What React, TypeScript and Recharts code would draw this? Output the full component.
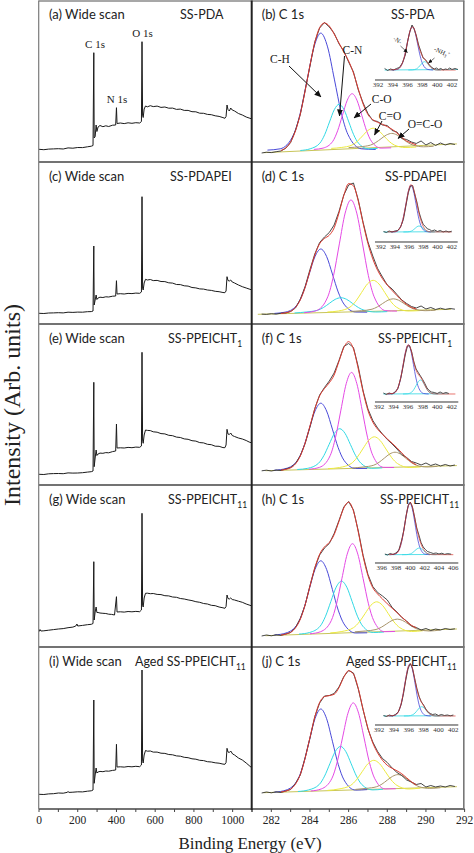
import React from 'react';
import { LineChart, Line, XAxis, YAxis } from 'recharts';

type P = [number, number];

// ---------------- wide scans (binding energy eV, intensity) ----------------
const wideScanA: P[] = [[0,12.7],[25,12.3],[50,12.9],[75,13.1],[100,13.3],[125,13.0],[150,14.1],[175,13.8],[200,14.5],[225,14.4],[250,15.2],[270,15.8],[279,16.5],[283,109.3],[285,24.0],[290,25.3],[295,37.0],[299,30.5],[305,35.0],[315,36.5],[330,35.3],[345,36.2],[360,35.5],[380,36.8],[396,37.0],[400,54.3],[403,38.5],[420,39.0],[440,38.4],[460,39.2],[480,38.7],[500,39.3],[520,39.0],[529,40.5],[532,120.3],[535,47.0],[538,44.5],[543,53.0],[550,56.0],[560,55.2],[575,56.3],[590,55.4],[610,55.9],[630,54.6],[650,55.0],[670,53.8],[690,53.9],[710,52.6],[730,52.9],[750,51.6],[770,51.6],[790,50.3],[810,50.2],[830,48.8],[850,48.7],[870,47.6],[890,47.3],[910,46.2],[930,45.6],[950,44.4],[960,43.7],[966,45.5],[971,57.0],[976,52.5],[983,51.0],[990,54.0],[998,52.0],[1010,51.0],[1030,48.5],[1050,47.0],[1070,45.0],[1085,44.0],[1100,43.0]];
const wideScanC: P[] = [[0,10.7],[25,10.5],[50,11.0],[75,11.1],[100,11.3],[125,11.1],[150,11.8],[175,11.6],[200,11.9],[225,11.8],[250,12.3],[270,12.4],[279,13.0],[283,78.0],[285,19.0],[290,24.0],[295,29.0],[299,24.5],[305,26.0],[315,26.8],[330,26.5],[345,27.2],[360,27.0],[380,27.8],[396,28.0],[400,43.3],[403,30.0],[420,30.3],[440,30.0],[460,30.6],[480,30.4],[500,30.9],[520,30.7],[529,32.0],[532,127.3],[535,36.0],[538,34.0],[543,41.0],[550,44.7],[560,44.0],[575,44.5],[590,43.4],[610,43.6],[630,42.5],[650,42.4],[670,41.2],[690,40.9],[710,39.5],[730,39.4],[750,38.2],[770,37.9],[790,36.5],[810,36.1],[830,35.1],[850,34.9],[870,34.0],[890,33.6],[910,32.7],[930,32.3],[950,31.5],[960,31.3],[966,33.0],[971,47.3],[976,43.5],[983,43.0],[990,44.0],[998,42.0],[1010,41.0],[1030,39.0],[1050,37.3],[1070,36.0],[1085,35.0],[1100,34.0]];
const wideScanE: P[] = [[0,10.7],[25,10.5],[50,11.2],[75,11.4],[100,11.5],[125,11.3],[150,12.1],[175,11.9],[200,12.0],[225,12.3],[250,12.9],[270,13.3],[279,14.0],[283,102.7],[285,18.3],[290,27.0],[295,35.0],[299,29.5],[305,31.0],[315,31.9],[330,31.7],[345,32.4],[360,32.2],[380,33.4],[396,34.0],[400,61.0],[403,37.0],[420,37.2],[440,37.0],[460,37.6],[480,37.3],[500,37.9],[520,37.7],[529,39.0],[532,132.7],[535,45.0],[538,41.7],[543,50.0],[550,55.0],[560,54.6],[575,54.4],[590,53.2],[610,52.8],[630,51.4],[650,51.1],[670,49.7],[690,49.3],[710,47.9],[730,47.5],[750,46.1],[770,45.7],[790,44.3],[810,43.9],[830,42.4],[850,42.1],[870,40.7],[890,40.3],[910,38.8],[930,38.7],[950,37.4],[960,37.3],[966,40.0],[971,55.7],[976,51.0],[983,50.5],[990,52.0],[998,49.5],[1010,48.5],[1030,47.0],[1050,46.0],[1070,44.5],[1085,43.0],[1100,42.0]];
const wideScanG: P[] = [[0,15.3],[5,17.5],[10,16.0],[25,16.2],[50,16.8],[75,17.4],[100,18.0],[125,18.4],[150,19.3],[175,19.9],[190,21.0],[196,23.0],[200,21.0],[225,21.6],[250,22.3],[270,22.7],[279,23.5],[283,85.3],[285,27.0],[290,35.0],[295,40.0],[299,34.5],[305,34.5],[315,34.0],[330,33.7],[345,33.5],[360,32.8],[375,32.6],[390,32.0],[400,50.3],[403,35.0],[420,35.2],[440,34.9],[460,35.5],[480,35.2],[500,35.6],[520,35.3],[529,37.0],[532,133.7],[535,42.0],[538,40.0],[543,49.0],[550,53.7],[560,53.8],[575,53.3],[590,53.5],[610,52.6],[630,52.4],[650,51.3],[670,51.1],[690,50.0],[710,49.7],[730,48.5],[750,48.0],[770,47.1],[790,46.4],[810,45.3],[830,44.7],[850,43.5],[870,43.0],[890,41.7],[910,41.3],[930,40.0],[950,39.2],[960,38.7],[966,40.5],[971,52.0],[976,48.5],[983,48.0],[990,49.0],[998,47.5],[1010,47.0],[1030,45.8],[1050,44.7],[1070,43.0],[1085,42.0],[1100,41.0]];
const wideScanI: P[] = [[0,14.7],[25,14.5],[50,15.1],[75,15.3],[100,16.0],[125,15.8],[145,16.6],[150,17.5],[155,16.6],[175,16.8],[200,17.2],[225,17.1],[250,17.8],[270,18.2],[279,19.0],[283,109.0],[285,25.7],[290,34.0],[295,41.0],[299,36.0],[305,37.0],[315,37.6],[330,37.3],[345,38.0],[360,37.8],[380,38.6],[396,39.0],[400,64.7],[403,42.0],[420,42.2],[440,41.9],[460,42.5],[480,42.2],[500,42.7],[520,42.3],[529,44.0],[532,139.0],[535,49.0],[538,46.0],[543,54.0],[550,58.5],[560,57.8],[575,58.0],[590,56.9],[610,56.9],[630,55.8],[650,55.6],[670,54.5],[690,54.2],[710,53.1],[730,52.8],[750,51.7],[770,51.3],[790,50.2],[810,49.8],[830,48.7],[850,48.4],[870,47.3],[890,47.0],[910,46.2],[930,45.8],[950,44.9],[960,44.7],[966,46.5],[971,60.7],[976,57.0],[983,56.5],[990,58.0],[1000,55.0],[1010,54.0],[1030,51.0],[1050,49.0],[1070,46.0],[1085,43.5],[1100,41.0]];

// ---------------- C 1s raw data, envelope ----------------
const rawGrid = [281.5,281.75,282,282.25,282.5,282.75,283,283.25,283.5,283.75,284,284.25,284.5,284.75,285,285.25,285.5,285.75,286,286.25,286.5,286.75,287,287.25,287.5,287.75,288,288.25,288.5,288.75,289,289.25,289.5,289.75,290,290.25,290.5,290.75,291,291.25,291.5];
const rawB = [9.0,9.8,9.4,10.3,11.0,13.8,19.5,31.8,47.5,71.8,96.0,120.2,134.0,139.5,135.0,128.8,118.2,111.0,100.0,90.0,72.0,59.0,48.5,41.5,40.5,37.0,36.5,31.5,30.0,23.5,22.5,20.0,18.5,21.0,17.0,19.5,16.5,19.0,17.0,18.5,17.5];
const rawD = [9.9,9.6,10.3,9.9,10.8,11.0,12.5,16.0,24.8,37.5,54.5,70.0,81.5,87.0,91.5,99.0,112.5,129.0,139.0,141.0,124.0,101.5,82.0,68.0,55.5,47.0,39.0,35.0,29.5,24.0,20.5,17.5,16.0,18.0,15.0,16.5,14.5,15.8,14.6,15.5,14.8];
const rawF = [14.2,14.8,14.0,14.9,14.5,16.0,17.5,21.5,29.5,41.5,58.0,76.5,90.0,97.5,104.0,112.0,124.5,138.5,141.5,137.5,118.0,94.0,76.0,64.5,57.0,51.0,45.5,41.0,36.0,30.5,27.5,23.5,22.0,20.0,22.0,19.5,21.0,19.0,20.5,19.0,20.0];
const rawH = [11.0,12.0,11.2,12.2,11.6,13.0,14.5,19.5,28.5,42.0,61.5,79.0,92.0,99.0,103.5,113.5,126.5,140.0,145.5,137.0,116.0,91.5,72.5,60.5,54.5,51.0,47.0,39.5,35.0,29.5,26.0,21.0,19.5,17.0,18.5,16.5,18.0,17.0,18.5,17.5,18.2];
const rawJ = [16.0,17.0,16.2,17.2,16.5,18.0,19.5,25.5,34.0,51.5,71.0,92.5,106.0,113.0,113.5,115.5,122.0,132.5,138.5,136.0,120.0,99.0,80.0,67.0,57.5,50.5,46.5,41.0,36.5,33.5,29.0,27.0,24.5,25.5,22.0,23.5,22.0,23.0,22.0,23.5,22.5];

const envGrid = [282.5,283,283.25,283.5,283.75,284,284.25,284.5,284.75,285,285.25,285.5,285.75,286,286.25,286.5,286.75,287,287.25,287.5,287.75,288,288.25,288.5,288.75,289,289.25,289.5];
const envB = [11.5,20.2,31.1,48.1,71.1,96.8,119.5,134.4,139.0,136.0,128.0,119.0,110.0,101.0,89.0,73.0,58.0,47.4,42.3,39.7,37.7,35.4,32.7,29.0,24.7,21.0,19.0,17.1];
const envD = [10.5,12.7,16.6,24.1,36.6,53.0,69.0,80.3,85.5,88.8,96.1,111.0,128.6,140.4,138.1,122.8,100.6,80.4,65.1,53.7,45.3,38.9,33.5,28.4,23.6,19.6,16.6,15.0];
const envF = [14.9,17.2,21.1,29.0,42.0,59.1,76.1,89.2,96.5,102.2,110.0,123.6,137.3,143.4,136.0,116.0,93.1,74.5,63.0,55.8,50.7,46.1,41.8,37.2,32.1,27.1,22.9,20.3];
const envH = [12.0,14.7,19.1,27.8,42.2,60.9,79.2,92.8,100.1,104.5,112.3,125.6,139.0,144.9,135.9,114.9,90.5,71.4,59.3,53.0,48.1,43.2,38.8,34.4,29.9,25.5,21.7,19.2];
const envJ = [17.0,19.9,24.9,34.5,50.8,71.6,92.0,106.6,112.4,113.4,114.7,121.3,131.8,138.3,134.9,120.4,99.5,80.6,66.0,56.1,48.8,43.7,40.7,38.2,35.2,31.2,27.2,24.1];

// ---------------- C 1s fitted components ----------------
const chB: P[] = [[281.8,11.9],[282.46,13.2],[283.16,27.7],[283.51,49.9],[283.86,82.9],[284.21,115.1],[284.56,128.9],[284.91,115.1],[285.26,82.9],[285.61,49.9],[285.96,27.7],[286.66,13.2],[287.4,12.5]];
const cnB: P[] = [[283.5,11.5],[284.01,13.2],[284.51,18.8],[284.76,27.3],[285.01,40.0],[285.26,52.4],[285.51,57.7],[285.76,52.4],[286.01,40.0],[286.26,27.3],[286.51,18.8],[287.01,13.2],[287.5,13.6]];
const coB: P[] = [[284.2,12.6],[284.68,13.9],[285.18,20.7],[285.43,31.2],[285.68,46.7],[285.93,61.8],[286.18,68.3],[286.43,61.8],[286.68,46.7],[286.93,31.2],[287.18,20.7],[287.68,13.9],[288.2,14.2]];
const cdoB: P[] = [[285.1,13.6],[285.62,14.5],[286.17,16.9],[286.445,20.6],[286.72,26.1],[286.995,31.5],[287.27,33.8],[287.545,31.5],[287.82,26.1],[288.095,20.6],[288.37,16.9],[288.92,14.5],[289.5,15.0]];
const ocoB: P[] = [[286.0,14.4],[286.58,15.2],[287.13,16.9],[287.405,19.5],[287.68,23.3],[287.955,27.0],[288.23,28.6],[288.505,27.0],[288.78,23.3],[289.055,19.5],[289.33,16.9],[289.88,15.2],[290.4,15.8]];
const baseB: P[] = [[281.6,9.3],[291.6,18.1]];

const chD: P[] = [[282.16,10.6],[282.76,12.0],[283.36,19.9],[283.66,32.0],[283.96,50.0],[284.26,67.5],[284.56,75.0],[284.86,67.5],[285.16,50.0],[285.46,32.0],[285.76,19.9],[286.36,12.0],[286.96,11.8]];
const cnD: P[] = [[283.2,11.0],[283.8,12.0],[284.4,13.8],[284.7,16.5],[285.0,20.6],[285.3,24.6],[285.6,26.3],[285.9,24.6],[286.2,20.6],[286.5,16.5],[286.8,13.8],[287.4,12.0],[288.0,12.4]];
const coD: P[] = [[283.7,11.3],[284.32,13.3],[284.92,27.2],[285.22,48.5],[285.52,80.1],[285.82,110.9],[286.12,124.1],[286.42,110.9],[286.72,80.1],[287.02,48.5],[287.32,27.2],[287.92,13.3],[288.5,12.9]];
const cdoD: P[] = [[284.9,12.0],[285.47,13.0],[286.07,16.9],[286.37,22.8],[286.67,31.5],[286.97,40.0],[287.27,43.7],[287.57,40.0],[287.87,31.5],[288.17,22.8],[288.47,16.9],[289.07,13.0],[289.7,13.4]];
const ocoD: P[] = [[286.1,12.6],[286.66,13.3],[287.21,14.8],[287.485,17.1],[287.76,20.5],[288.035,23.8],[288.31,25.2],[288.585,23.8],[288.86,20.5],[289.135,17.1],[289.41,14.8],[289.96,13.3],[290.5,13.8]];
const baseD: P[] = [[281.3,9.7],[291.3,14.7]];

const chF: P[] = [[282.16,14.8],[282.76,16.5],[283.36,24.7],[283.66,37.3],[283.96,55.9],[284.26,74.0],[284.56,81.8],[284.86,74.0],[285.16,55.9],[285.46,37.3],[285.76,24.7],[286.36,16.5],[286.96,16.6]];
const cnF: P[] = [[283.34,15.5],[283.89,16.7],[284.44,21.7],[284.715,29.3],[284.99,40.6],[285.265,51.6],[285.54,56.3],[285.815,51.6],[286.09,40.6],[286.365,29.3],[286.64,21.7],[287.19,16.7],[287.74,17.2]];
const coF: P[] = [[283.95,15.8],[284.5,17.7],[285.05,29.6],[285.325,47.8],[285.6,74.9],[285.875,101.3],[286.15,112.6],[286.425,101.3],[286.7,74.9],[286.975,47.8],[287.25,29.6],[287.8,17.7],[288.35,17.5]];
const cdoF: P[] = [[284.93,16.3],[285.53,17.5],[286.13,21.4],[286.43,27.3],[286.73,36.0],[287.03,44.5],[287.33,48.2],[287.63,44.5],[287.93,36.0],[288.23,27.3],[288.53,21.4],[289.13,17.5],[289.73,18.1]];
const ocoF: P[] = [[286.2,17.0],[286.75,18.0],[287.3,19.8],[287.575,22.7],[287.85,26.9],[288.125,31.0],[288.4,32.8],[288.675,31.0],[288.95,26.9],[289.225,22.7],[289.5,19.8],[290.05,18.0],[290.6,18.7]];
const baseF: P[] = [[281.7,14.3],[291.6,19.4]];

const chH: P[] = [[282.16,12.0],[282.76,14.0],[283.36,23.1],[283.66,36.9],[283.96,57.5],[284.26,77.6],[284.56,86.2],[284.86,77.6],[285.16,57.5],[285.46,36.9],[285.76,23.1],[286.36,14.0],[286.96,14.2]];
const cnH: P[] = [[283.43,12.9],[283.98,14.5],[284.53,20.9],[284.805,30.8],[285.08,45.5],[285.355,59.8],[285.63,65.9],[285.905,59.8],[286.18,45.5],[286.455,30.8],[286.73,20.9],[287.28,14.5],[287.83,15.0]];
const coH: P[] = [[284.0,13.2],[284.55,15.3],[285.1,26.3],[285.375,43.2],[285.65,68.3],[285.925,92.8],[286.2,103.3],[286.475,92.8],[286.75,68.3],[287.025,43.2],[287.3,26.3],[287.85,15.3],[288.4,15.5]];
const cdoH: P[] = [[285.05,14.1],[285.65,15.5],[286.25,19.3],[286.55,25.0],[286.85,33.4],[287.15,41.7],[287.45,45.2],[287.75,41.7],[288.05,33.4],[288.35,25.0],[288.65,19.3],[289.25,15.5],[289.85,16.3]];
const ocoH: P[] = [[286.32,15.2],[286.87,16.0],[287.42,17.5],[287.695,19.8],[287.97,23.2],[288.245,26.5],[288.52,27.9],[288.795,26.5],[289.07,23.2],[289.345,19.8],[289.62,17.5],[290.17,16.0],[290.72,16.9]];
const baseH: P[] = [[281.7,11.3],[291.6,18.0]];

const chJ: P[] = [[282.16,16.8],[282.76,18.9],[283.36,29.1],[283.66,44.7],[283.96,67.8],[284.26,90.3],[284.56,100.0],[284.86,90.3],[285.16,67.8],[285.46,44.7],[285.76,29.1],[286.36,18.9],[286.96,19.4]];
const cnJ: P[] = [[283.38,17.5],[283.93,19.1],[284.48,24.5],[284.755,32.9],[285.03,45.3],[285.305,57.4],[285.58,62.6],[285.855,57.4],[286.13,45.3],[286.405,32.9],[286.68,24.5],[287.23,19.1],[287.78,19.8]];
const coJ: P[] = [[284.04,18.0],[284.59,20.1],[285.14,30.8],[285.415,47.4],[285.69,71.9],[285.965,95.8],[286.24,106.1],[286.515,95.8],[286.79,71.9],[287.065,47.4],[287.34,30.8],[287.89,20.1],[288.44,20.3]];
const cdoJ: P[] = [[284.9,18.6],[285.5,20.0],[286.1,23.6],[286.4,29.1],[286.7,37.3],[287.0,45.3],[287.3,48.7],[287.6,45.3],[287.9,37.3],[288.2,29.1],[288.5,23.6],[289.1,20.0],[289.7,20.9]];
const ocoJ: P[] = [[286.35,19.6],[286.9,20.6],[287.45,22.3],[287.725,24.9],[288.0,28.9],[288.275,32.7],[288.55,34.4],[288.825,32.7],[289.1,28.9],[289.375,24.9],[289.65,22.3],[290.2,20.6],[290.75,21.3]];
const baseJ: P[] = [[281.6,16.3],[291.6,22.3]];

// ---------------- N 1s insets ----------------
const inRawB: P[] = [[392.9,11.5],[393.3,9.5],[393.7,11.0],[394.1,10.0],[394.5,11.5],[394.9,12.5],[395.3,17.0],[395.7,25.0],[396.0,38.5],[396.3,48.0],[396.6,55.0],[396.9,51.0],[397.2,44.0],[397.5,35.0],[397.8,28.5],[398.1,22.0],[398.4,20.5],[398.7,17.5],[399.0,14.5],[399.3,12.5],[399.6,11.0],[399.9,12.0],[400.2,10.5],[400.5,11.5],[400.8,10.0],[401.1,11.0],[401.4,10.5],[401.7,12.0],[402.0,10.5],[402.4,11.5],[402.8,10.5]];
const inBlueB: P[] = [[393.85,10],[394.55,10.5],[395.25,15.8],[395.6,24.1],[395.95,36.3],[396.3,48.2],[396.65,53.3],[397.0,48.2],[397.35,36.3],[397.7,24.1],[398.05,15.8],[398.75,10.5],[399.45,10]];
const inCyanB: P[] = [[396.1,10],[396.65,10.1],[397.2,11.1],[397.475,12.7],[397.75,15.0],[398.025,17.3],[398.3,18.3],[398.575,17.3],[398.85,15.0],[399.125,12.7],[399.4,11.1],[399.95,10.1],[400.5,10]];
const inEnvB: P[] = [[393.5,10],[394.5,10.5],[395.0,12.7],[395.5,21.3],[396.0,38.1],[396.25,46.8],[396.5,52.3],[396.75,53.1],[397.0,48.7],[397.5,33.7],[398.0,23.9],[398.5,19.1],[399.0,13.9],[399.5,10.8],[400.0,10],[402.5,10]];
const inBaseB: P[] = [[392.9,10],[402.8,10.5]];

const inRawD: P[] = [[392.4,10.5],[392.8,9.5],[393.2,11.0],[393.6,10.0],[394.0,11.0],[394.4,11.5],[394.8,15.0],[395.2,22.5],[395.6,38.0],[395.9,49.5],[396.2,56.0],[396.5,56.5],[396.8,48.0],[397.1,40.0],[397.4,30.0],[397.7,23.0],[398.0,17.5],[398.3,15.5],[398.6,13.0],[398.9,12.5],[399.2,11.0],[399.6,12.0],[400.0,10.5],[400.4,11.5],[400.8,10.0],[401.2,11.0],[401.6,10.0],[402.0,10.8]];
const inBlueD: P[] = [[393.47,10],[394.17,10.5],[394.87,16.3],[395.22,25.2],[395.57,38.3],[395.92,51.2],[396.27,56.7],[396.62,51.2],[396.97,38.3],[397.32,25.2],[397.67,16.3],[398.37,10.5],[399.07,10]];
const inCyanD: P[] = [[395.2,10],[395.75,10.1],[396.3,10.8],[396.575,12.0],[396.85,13.6],[397.125,15.3],[397.4,16.0],[397.675,15.3],[397.95,13.6],[398.225,12.0],[398.5,10.8],[399.05,10.1],[399.6,10]];
const inEnvD: P[] = [[393.0,10],[394.0,10.2],[394.5,11.9],[395.0,19.1],[395.5,35.5],[395.75,45.5],[396.0,53.5],[396.25,57.4],[396.5,55.8],[396.75,49.8],[397.0,41.8],[397.5,25.8],[398.0,15.5],[398.5,11.1],[399.0,10.1],[402.0,10]];
const inBaseD: P[] = [[392.4,10],[402.0,10.3]];

const inRawF: P[] = [[392.6,9.0],[393.0,7.5],[393.4,9.0],[393.8,8.0],[394.2,10.0],[394.6,13.5],[395.0,24.0],[395.3,35.0],[395.6,47.0],[395.9,55.5],[396.2,56.5],[396.5,50.0],[396.8,40.0],[397.1,33.0],[397.4,29.5],[397.7,26.0],[398.0,22.5],[398.3,18.5],[398.6,14.0],[398.9,11.5],[399.2,10.0],[399.6,9.5],[400.0,8.5],[400.4,10.0],[400.8,8.5],[401.2,9.5],[401.6,8.5]];
const inBlueF: P[] = [[393.23,8],[393.93,8.5],[394.63,14.6],[394.98,23.9],[395.33,37.7],[395.68,51.2],[396.03,57.0],[396.38,51.2],[396.73,37.7],[397.08,23.9],[397.43,14.6],[398.13,8.5],[398.83,8]];
const inCyanF: P[] = [[395.3,8],[395.9,8.2],[396.5,9.9],[396.8,12.6],[397.1,16.5],[397.4,20.3],[397.7,22.0],[398.0,20.3],[398.3,16.5],[398.6,12.6],[398.9,9.9],[399.5,8.2],[400.1,8]];
const inEnvF: P[] = [[393.0,8],[394.0,8.7],[394.5,12.5],[395.0,24.7],[395.5,44.7],[395.75,53.2],[396.0,57.3],[396.25,55.4],[396.5,49.1],[396.75,40.8],[397.0,33.7],[397.25,29.4],[397.5,26.7],[397.75,24.4],[398.0,21.2],[398.5,13.9],[399.0,9.3],[399.5,8.2],[400.0,8],[402.5,8]];
const inBaseF: P[] = [[392.6,8],[401.6,8.3]];

const inRawH: P[] = [[396.45,9.0],[396.8,8.0],[397.2,9.5],[397.6,8.5],[398.0,10.0],[398.4,13.0],[398.8,23.0],[399.1,33.0],[399.4,46.5],[399.7,57.5],[400.0,61.0],[400.3,56.0],[400.6,46.0],[400.9,35.0],[401.2,28.0],[401.5,20.5],[401.8,16.0],[402.1,13.5],[402.4,11.5],[402.8,10.5],[403.2,9.5],[403.6,10.0],[404.0,9.0],[404.4,9.8],[404.8,8.6],[405.2,9.4],[405.7,8.8]];
const inBlueH: P[] = [[397.15,8.3],[397.85,8.9],[398.55,15.3],[398.9,25.0],[399.25,39.6],[399.6,53.7],[399.95,59.8],[400.3,53.7],[400.65,39.6],[401.0,25.0],[401.35,15.3],[402.05,8.9],[402.75,8.3]];
const inCyanH: P[] = [[398.85,8.3],[399.45,8.4],[400.05,9.2],[400.35,10.5],[400.65,12.4],[400.95,14.2],[401.25,15.0],[401.55,14.2],[401.85,12.4],[402.15,10.5],[402.45,9.2],[403.05,8.4],[403.65,8.3]];
const inEnvH: P[] = [[397.0,8.3],[398.0,9.3],[398.5,14.3],[399.0,28.7],[399.5,50.3],[399.75,57.7],[400.0,60.5],[400.25,57.0],[400.5,49.1],[400.75,39.9],[401.0,31.1],[401.5,18.9],[402.0,12.1],[402.5,9.1],[403.0,8.4],[406.0,8.3]];
const inBaseH: P[] = [[396.45,8.3],[405.7,8.6]];

const inRawJ: P[] = [[392.6,9.5],[393.0,8.5],[393.4,10.0],[393.8,9.0],[394.2,10.5],[394.6,13.0],[395.0,21.0],[395.3,31.5],[395.6,45.0],[395.9,56.0],[396.2,61.5],[396.5,57.0],[396.8,46.5],[397.1,36.5],[397.4,28.5],[397.7,23.0],[398.0,20.0],[398.3,16.0],[398.6,13.0],[398.9,11.5],[399.2,10.5],[399.6,11.0],[400.0,9.5],[400.4,10.5],[400.8,9.5],[401.2,10.0],[401.6,9.2],[402.0,10.0]];
const inBlueJ: P[] = [[393.37,9],[394.07,9.6],[394.77,16.0],[395.12,25.9],[395.47,40.6],[395.82,54.9],[396.17,61.0],[396.52,54.9],[396.87,40.6],[397.22,25.9],[397.57,16.0],[398.27,9.6],[398.97,9]];
const inCyanJ: P[] = [[395.35,9],[395.95,9.1],[396.55,10.3],[396.85,12.0],[397.15,14.6],[397.45,17.2],[397.75,18.3],[398.05,17.2],[398.35,14.6],[398.65,12.0],[398.95,10.3],[399.55,9.1],[400.15,9]];
const inEnvJ: P[] = [[393.0,9],[394.0,9.4],[394.5,12.0],[395.0,21.9],[395.5,41.8],[395.75,52.4],[396.0,59.6],[396.25,61.1],[396.5,56.6],[396.75,48.1],[397.0,38.9],[397.25,31.5],[397.5,26.0],[397.75,22.5],[398.0,19.2],[398.5,13.5],[399.0,10.1],[399.5,9.1],[400.0,9],[402.3,9]];
const inBaseJ: P[] = [[392.6,9],[402.0,9.3]];

// ---------------- ticks ----------------
const wideTicks = [0,100,200,300,400,500,600,700,800,900,1000,1100];
const c1sTicks = [281,282,283,284,285,286,287,288,289,290,291,292];
const insetTicksA = [392,394,396,398,400,402];
const insetTicksH = [396,398,400,402,404,406];

// ---------------- styling ----------------
const SANS = 'Lato, "Liberation Sans", sans-serif';
const SERIF = '"Liberation Serif", "Times New Roman", serif';
const C_BLUE = '#4848d8';
const C_CYAN = '#30d8e4';
const C_MAG = '#e448e4';
const C_YEL = '#ecea40';
const C_OLV = '#a8946a';
const C_RED = '#dc3a30';
const C_RAW = '#333333';
const C_BASE = '#c8c458';

const LEFT_X = 38.7;
const MID_X = 251.7;
const RIGHT_X = 464.3;
const rowTops = [0, 162, 324, 485, 647];
const rowHs = [162, 162, 161, 162, 162];

type Pt = { x: number; y: number };
const pts = (a: P[]): Pt[] => a.map(([x, y]) => ({ x, y }));
const onGrid = (g: number[], ys: number[]): Pt[] => g.map((x, i) => ({ x, y: ys[i] }));

interface Series { data: Pt[]; color: string; width?: number; curve?: 'linear' | 'monotone'; }

function Panel(props: { left: number; top: number; width: number; height: number; domain: [number, number]; ticks: number[]; labels: boolean; fmt: (v: number) => string; series: Series[] }) {
  const { left, top, width, height, domain, ticks, labels, fmt, series } = props;
  const axisH = 30;
  const pad = 16;
  return (
    <div style={{ position: 'absolute', left: left - pad, top, width: width + 2 * pad, height: height + axisH }}>
      <LineChart width={width + 2 * pad} height={height + axisH} margin={{ top: 0, right: pad, bottom: 0, left: pad }}>
        <XAxis type="number" dataKey="x" domain={domain} ticks={ticks} interval={0} allowDataOverflow height={axisH}
          stroke="#444" axisLine={{ stroke: '#444', strokeWidth: 1.3 }} tickLine={{ stroke: '#444' }} tickSize={3} tickMargin={4}
          tick={labels ? { fontFamily: SERIF, fontSize: 11.5, fill: '#222' } : false} tickFormatter={fmt} />
        <YAxis type="number" domain={[0, height]} hide allowDataOverflow />
        {series.map((s, i) => (
          <Line key={i} data={s.data} dataKey="y" stroke={s.color} strokeWidth={s.width ?? 1} dot={false} activeDot={false}
            isAnimationActive={false} type={s.curve ?? 'linear'} />
        ))}
      </LineChart>
    </div>
  );
}

function Inset(props: { left: number; axisY: number; width: number; domain: [number, number]; ticks: number[]; series: Series[] }) {
  const { left, axisY, width, domain, ticks, series } = props;
  const plotH = 64;
  const axisH = 14;
  const pad = 8;
  return (
    <div style={{ position: 'absolute', left: left - pad, top: axisY - plotH, width: width + 2 * pad, height: plotH + axisH }}>
      <LineChart width={width + 2 * pad} height={plotH + axisH} margin={{ top: 0, right: pad, bottom: 0, left: pad }}>
        <XAxis type="number" dataKey="x" domain={domain} ticks={ticks} interval={0} allowDataOverflow height={axisH}
          stroke="#333" axisLine={{ stroke: '#333', strokeWidth: 1 }} tickLine={false} tickSize={0} tickMargin={2}
          tick={{ fontFamily: SERIF, fontSize: 7, fill: '#333' }} />
        <YAxis type="number" domain={[0, plotH]} hide allowDataOverflow />
        {series.map((s, i) => (
          <Line key={i} data={s.data} dataKey="y" stroke={s.color} strokeWidth={s.width ?? 0.8} dot={false} activeDot={false}
            isAnimationActive={false} type={s.curve ?? 'linear'} />
        ))}
      </LineChart>
    </div>
  );
}

const wideFmt = (v: number) => (v % 200 === 0 && v <= 1000 ? String(v) : '');
const c1sFmt = (v: number) => (v % 2 === 0 ? String(v) : '');

function c1sSeries(raw: number[], env: number[], ch: P[], cn: P[], co: P[], cdo: P[], oco: P[], base: P[]): Series[] {
  return [
    { data: pts(base), color: C_BASE },
    { data: pts(ch), color: C_BLUE, curve: 'monotone' },
    { data: pts(cn), color: C_CYAN, curve: 'monotone' },
    { data: pts(co), color: C_MAG, curve: 'monotone' },
    { data: pts(cdo), color: C_YEL, curve: 'monotone' },
    { data: pts(oco), color: C_OLV, curve: 'monotone' },
    { data: onGrid(rawGrid, raw), color: C_RAW, width: 0.9 },
    { data: onGrid(envGrid, env), color: C_RED, curve: 'monotone' },
  ];
}

function insetSeries(raw: P[], blue: P[], cyan: P[], env: P[], base: P[]): Series[] {
  return [
    { data: pts(base), color: C_CYAN },
    { data: pts(blue), color: C_BLUE, curve: 'monotone' },
    { data: pts(cyan), color: C_CYAN, curve: 'monotone' },
    { data: pts(raw), color: '#222', width: 0.8 },
    { data: pts(env), color: C_RED, curve: 'monotone', width: 0.7 },
  ];
}

const wideList: P[][] = [wideScanA, wideScanC, wideScanE, wideScanG, wideScanI];
const c1sList: Series[][] = [
  c1sSeries(rawB, envB, chB, cnB, coB, cdoB, ocoB, baseB),
  c1sSeries(rawD, envD, chD, cnD, coD, cdoD, ocoD, baseD),
  c1sSeries(rawF, envF, chF, cnF, coF, cdoF, ocoF, baseF),
  c1sSeries(rawH, envH, chH, cnH, coH, cdoH, ocoH, baseH),
  c1sSeries(rawJ, envJ, chJ, cnJ, coJ, cdoJ, ocoJ, baseJ),
];

const insets = [
  { left: 375.3, axisY: 80, width: 82.9, domain: [391.6, 402.8] as [number, number], ticks: insetTicksA, s: insetSeries(inRawB, inBlueB, inCyanB, inEnvB, inBaseB) },
  { left: 375, axisY: 241.7, width: 82.7, domain: [391.2, 402.85] as [number, number], ticks: insetTicksA, s: insetSeries(inRawD, inBlueD, inCyanD, inEnvD, inBaseD) },
  { left: 375, axisY: 402, width: 83.3, domain: [391.45, 402.9] as [number, number], ticks: insetTicksA, s: insetSeries(inRawF, inBlueF, inCyanF, inEnvF, inBaseF) },
  { left: 375, axisY: 563.3, width: 83.3, domain: [395.07, 406.7] as [number, number], ticks: insetTicksH, s: insetSeries(inRawH, inBlueH, inCyanH, inEnvH, inBaseH) },
  { left: 375, axisY: 725, width: 83.3, domain: [391.46, 402.67] as [number, number], ticks: insetTicksA, s: insetSeries(inRawJ, inBlueJ, inCyanJ, inEnvJ, inBaseJ) },
];

const leftTitles = ['(a) Wide scan', '(c) Wide scan', '(e) Wide scan', '(g) Wide scan', '(i) Wide scan'];
const rightTitles = ['(b) C 1s', '(d) C 1s', '(f) C 1s', '(h) C 1s', '(j) C 1s'];
const sampleNames: { main: string; sub: string; lx: number; rx: number }[] = [
  { main: 'SS-PDA', sub: '', lx: 180, rx: 391 },
  { main: 'SS-PDAPEI', sub: '', lx: 170, rx: 385 },
  { main: 'SS-PPEICHT', sub: '1', lx: 168, rx: 378 },
  { main: 'SS-PPEICHT', sub: '11', lx: 168, rx: 380 },
  { main: 'Aged SS-PPEICHT', sub: '11', lx: 135, rx: 346 },
];

const arrows: [number, number, number, number][] = [
  [289, 66, 321, 97],
  [344.5, 56, 339.5, 116],
  [371, 104, 354, 118],
  [382, 121, 374.5, 135],
  [409, 129, 398, 138.5],
];

export default function App() {
  return (
    <div style={{ position: 'absolute', left: 0, top: 0, width: 474, height: 853, background: '#fff', overflow: 'hidden' }}>
      {wideList.map((w, i) => (
        <Panel key={'w' + i} left={LEFT_X} top={rowTops[i]} width={MID_X - LEFT_X} height={rowHs[i]} domain={[0, 1100]}
          ticks={wideTicks} labels={i === 4} fmt={wideFmt} series={[{ data: pts(w), color: '#1a1a1a', width: 1 }]} />
      ))}
      {c1sList.map((s, i) => (
        <Panel key={'c' + i} left={MID_X} top={rowTops[i]} width={RIGHT_X - MID_X} height={rowHs[i]} domain={[281, 292]}
          ticks={c1sTicks} labels={i === 4} fmt={c1sFmt} series={s} />
      ))}
      {insets.map((n, i) => (
        <Inset key={'i' + i} left={n.left} axisY={n.axisY} width={n.width} domain={n.domain} ticks={n.ticks} series={n.s} />
      ))}
      <svg width={474} height={853} style={{ position: 'absolute', left: 0, top: 0, pointerEvents: 'none' }}>
        <defs>
          <marker id="ah" markerUnits="userSpaceOnUse" markerWidth={7} markerHeight={6} refX={6.5} refY={3} orient="auto">
            <path d="M0,0 L7,3 L0,6 z" fill="#111" />
          </marker>
          <marker id="ahs" markerUnits="userSpaceOnUse" markerWidth={4} markerHeight={4} refX={3.8} refY={2} orient="auto">
            <path d="M0,0 L4,2 L0,4 z" fill="#111" />
          </marker>
        </defs>
        <line x1={LEFT_X} y1={1} x2={RIGHT_X} y2={1} stroke="#8a8a8a" strokeWidth={1.3} />
        <line x1={LEFT_X} y1={0.5} x2={LEFT_X} y2={809} stroke="#7a7a7a" strokeWidth={1.2} />
        <line x1={MID_X} y1={0.5} x2={MID_X} y2={810} stroke="#222" strokeWidth={2} />
        <line x1={RIGHT_X - 0.5} y1={0.5} x2={RIGHT_X - 0.5} y2={809} stroke="#777" strokeWidth={1.6} />

        {leftTitles.map((t, i) => (
          <text key={'lt' + i} x={49} y={rowTops[i] + 19} fontFamily={SANS} fontSize={13} fill="#222">{t}</text>
        ))}
        {rightTitles.map((t, i) => (
          <text key={'rt' + i} x={261.7} y={rowTops[i] + 19} fontFamily={SANS} fontSize={13} fill="#222">{t}</text>
        ))}
        {sampleNames.map((s, i) => (
          <g key={'sn' + i}>
            <text x={s.lx} y={rowTops[i] + 19} fontFamily={SANS} fontSize={12.5} fill="#222">
              {s.main}
              {s.sub ? <tspan fontSize={8.5} dy={3.5}>{s.sub}</tspan> : null}
            </text>
            <text x={s.rx} y={rowTops[i] + 19} fontFamily={SANS} fontSize={12.5} fill="#222">
              {s.main}
              {s.sub ? <tspan fontSize={8.5} dy={3.5}>{s.sub}</tspan> : null}
            </text>
          </g>
        ))}

        <text x={95} y={48} textAnchor="middle" fontFamily={SERIF} fontSize={11} fill="#222">C 1s</text>
        <text x={117} y={102.5} textAnchor="middle" fontFamily={SERIF} fontSize={11} fill="#222">N 1s</text>
        <text x={142.5} y={37} textAnchor="middle" fontFamily={SERIF} fontSize={11} fill="#222">O 1s</text>

        <text x={280} y={63.3} textAnchor="middle" fontFamily={SERIF} fontSize={11.5} fill="#222">C-H</text>
        <text x={352.5} y={54} textAnchor="middle" fontFamily={SERIF} fontSize={11.5} fill="#222">C-N</text>
        <text x={381.7} y={103.3} textAnchor="middle" fontFamily={SERIF} fontSize={11.5} fill="#222">C-O</text>
        <text x={390} y={120} textAnchor="middle" fontFamily={SERIF} fontSize={11.5} fill="#222">C=O</text>
        <text x={425} y={128} textAnchor="middle" fontFamily={SERIF} fontSize={11.5} fill="#222">O=C-O</text>
        {arrows.map((a, i) => (
          <line key={'ar' + i} x1={a[0]} y1={a[1]} x2={a[2]} y2={a[3]} stroke="#111" strokeWidth={1} markerEnd="url(#ah)" />
        ))}

        <text transform="translate(396.5,42) rotate(35)" textAnchor="middle" fontFamily={SERIF} fontSize={6.5} fill="#222">-N-</text>
        <text transform="translate(441,54) rotate(25)" textAnchor="middle" fontFamily={SERIF} fontSize={6.5} fill="#222">
          -NH<tspan fontSize={4.5} dy={1.5}>3</tspan><tspan fontSize={4.5} dy={-4}>+</tspan>
        </text>
        <line x1={400.5} y1={46} x2={407.5} y2={52.5} stroke="#111" strokeWidth={0.6} markerEnd="url(#ahs)" />
        <line x1={434.5} y1={58} x2={428.5} y2={63} stroke="#111" strokeWidth={0.6} markerEnd="url(#ahs)" />

        <text transform="translate(20,405) rotate(-90)" textAnchor="middle" fontFamily={SERIF} fontSize={24} fill="#222">Intensity (Arb. units)</text>
        <text x={250} y={849} textAnchor="middle" fontFamily={SERIF} fontSize={17} fill="#222">Binding Energy (eV)</text>
      </svg>
    </div>
  );
}
